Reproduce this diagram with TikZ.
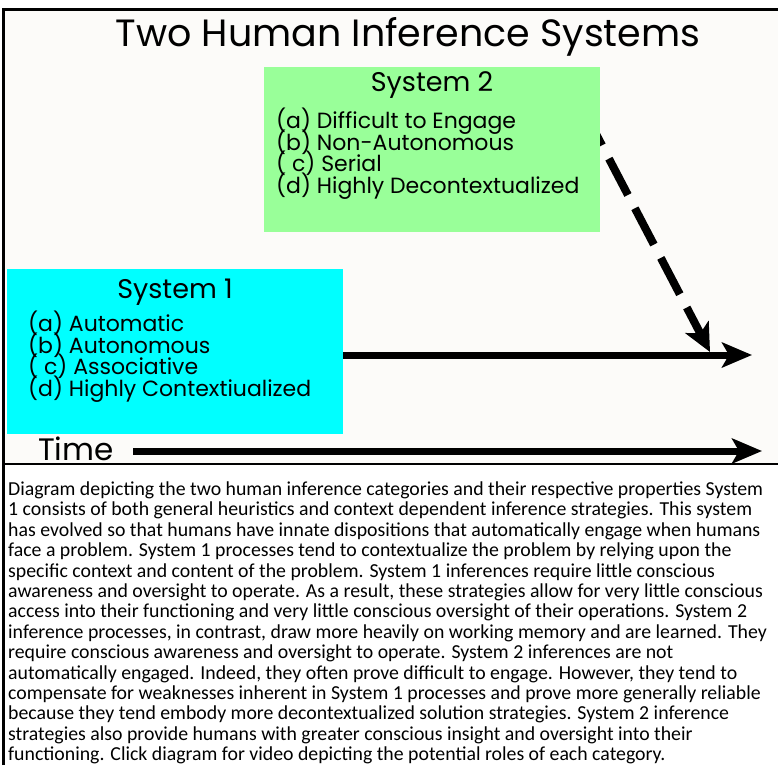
\documentclass[tikz,border=0pt]{standalone}
\usepackage{fontspec}
\usetikzlibrary{arrows.meta}
\newfontfamily\handfont{Poppins}
\newfontfamily\capfont{Carlito}
\definecolor{paper}{HTML}{FCFBF9}
\definecolor{sysgreen}{HTML}{99FF99}
\definecolor{syscyan}{HTML}{00FFFF}
\tikzset{
  sysbox/.style={fill=#1, draw=none, minimum width=336pt, minimum height=165pt, inner sep=0pt},
  heading/.style={font=\handfont\fontsize{27}{30}\selectfont, inner sep=0pt, anchor=base},
  itemline/.style={font=\handfont\fontsize{22}{22}\selectfont, inner sep=0pt, anchor=base west},
  thickarrow/.style={line width=7pt, -{Stealth[length=30pt, width=25pt, inset=7pt]}},
  dasharrow/.style={line width=8pt, dash pattern=on 41pt off 15pt, -{Stealth[length=28pt, width=26pt, inset=7pt]}},
  capline/.style={font=\capfont\fontsize{19.8}{20.4}\selectfont, inner sep=0pt, anchor=base west},
}
\begin{document}
\begin{tikzpicture}[x=1pt, y=-1pt]
  \useasboundingbox (0,0) rectangle (778,765);
  \fill[white] (0,0) rectangle (778,765);
  \fill[paper] (3,10) rectangle (778,463);

  % frame
  \draw[line width=3pt] (3,765) -- (3,10) -- (778,10);
  \draw[line width=2pt] (3,463.5) -- (778,463.5);

  % title
  \node[font=\handfont\fontsize{38}{44}\selectfont, inner sep=0pt, anchor=base] (title) at (408,47) {Two Human Inference Systems};

  % dashed connector from System 2 down onto the System 1 line (drawn first so the box covers its start)
  \coordinate (dstart) at (583,109);
  \coordinate (dend) at (710,352);
  \draw[dasharrow] (dstart) -- (dend);

  % System 2 box
  \node[sysbox=sysgreen] (s2) at (432,149.5) {};
  \node[heading] (s2head) at (432,92) {System 2};
  \foreach \txt [count=\i] in {(a) Difficult to Engage, (b) Non-Autonomous, ( c) Serial, (d) Highly Decontextualized}
    \node[itemline] (s2item\i) at (276,{128.5+(\i-1)*21.5}) {\txt};

  % System 1 box
  \node[sysbox=syscyan] (s1) at (175,351) {};
  \node[heading] (s1head) at (175,298) {System 1};
  \foreach \txt [count=\i] in {(a) Automatic, (b) Autonomous, ( c) Associative, (d) Highly Contextiualized}
    \node[itemline] (s1item\i) at (28,{331.5+(\i-1)*21.5}) {\txt};

  % System 1 arrow
  \coordinate (s1end) at (752,355);
  \draw[thickarrow] (s1.east |- s1end) -- (s1end);

  % time axis
  \node[font=\handfont\fontsize{31}{34}\selectfont, inner sep=0pt, anchor=base] (time) at (76,460) {Time};
  \coordinate (tstart) at (133,451);
  \coordinate (tend) at (762,451);
  \draw[thickarrow] (tstart) -- (tend);

  % caption
  \foreach \txt [count=\i] in {
    {Diagram depicting the two human inference categories and their respective properties System},
    {1 consists of both general heuristics and context dependent inference strategies. This system},
    {has evolved so that humans have innate dispositions that automatically engage when humans},
    {face a problem. System 1 processes tend to contextualize the problem by relying upon the},
    {specific context and content of the problem. System 1 inferences require little conscious},
    {awareness and oversight to operate. As a result, these strategies allow for very little conscious},
    {access into their functioning and very little conscious oversight of their operations. System 2},
    {inference processes, in contrast, draw more heavily on working memory and are learned. They},
    {require conscious awareness and oversight to operate. System 2 inferences are not},
    {automatically engaged. Indeed, they often prove difficult to engage. However, they tend to},
    {compensate for weaknesses inherent in System 1 processes and prove more generally reliable},
    {because they tend embody more decontextualized solution strategies. System 2 inference},
    {strategies also provide humans with greater conscious insight and oversight into their},
    {functioning. Click diagram for video depicting the potential roles of each category.}
  } {
    \node[capline] (cap\i) at (8,{495.5+(\i-1)*20.4}) {\txt};
  }
\end{tikzpicture}
\end{document}
